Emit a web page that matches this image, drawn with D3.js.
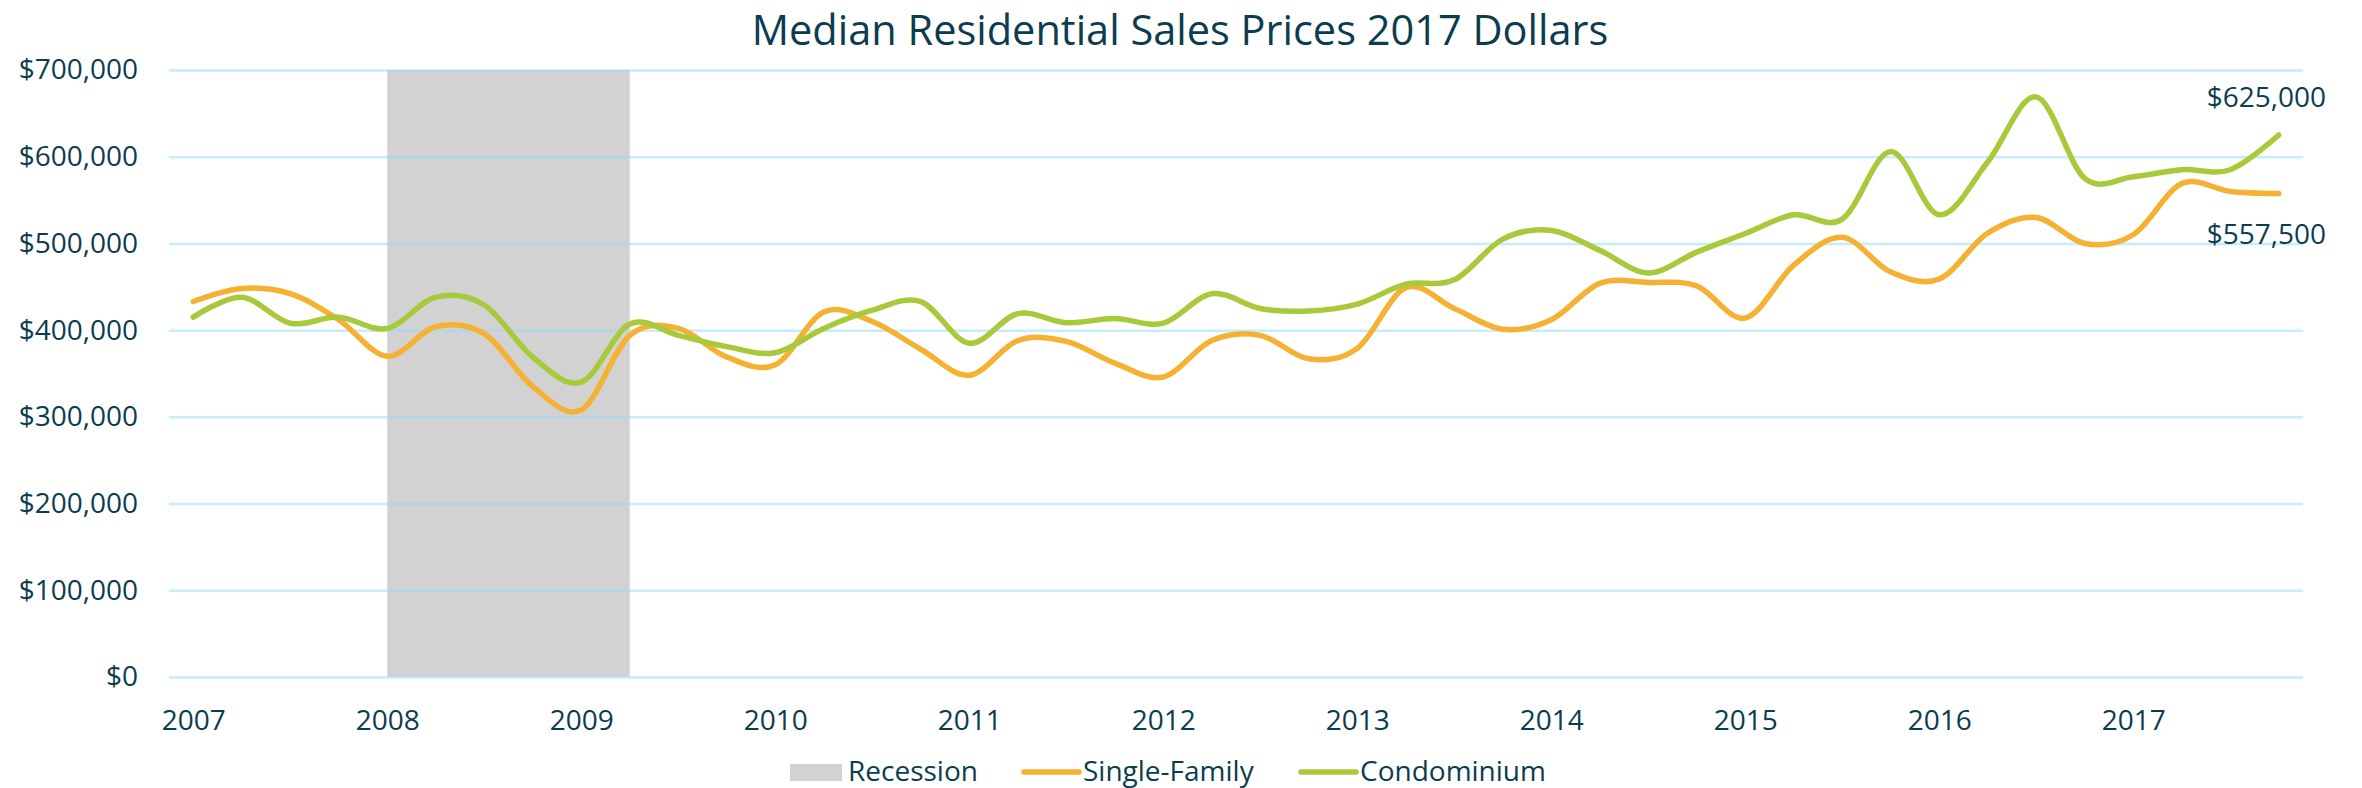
<!DOCTYPE html>
<html>
<head>
<meta charset="utf-8">
<script src="https://cdn.jsdelivr.net/npm/d3@7"></script>
<style>
  body { margin: 0; background: #fff; }
  svg { display: block; font-family: "Open Sans", sans-serif; }
</style>
</head>
<body>
<svg id="chart" width="2362" height="788"></svg>
<script>
// Quarterly median sales prices, 2007 Q1 .. 2017 Q4 (2017 dollars)
const years = d3.range(2007, 2018);
const quarters = years.flatMap(y => ['Q1', 'Q2', 'Q3', 'Q4'].map(q => y + ' ' + q));

const singleFamily = [
  433000, 448000, 442000, 412000, 370000, 404000, 396000, 335000, 308000, 394000, 402000,
  369000, 360000, 421000, 410000, 378000, 348000, 388000, 387000, 362000, 346000, 388000,
  394000, 367000, 379000, 449000, 425000, 401000, 412000, 454000, 455000, 451000, 414000,
  475000, 507000, 467000, 459000, 512000, 530000, 500000, 510000, 569000, 560000, 557500
];
const condominium = [
  415000, 438000, 408000, 415000, 402000, 438000, 429000, 369000, 340000, 407000, 394000,
  381000, 374000, 402000, 423000, 433000, 385000, 419000, 408500, 413500, 408000, 442000,
  425000, 422000, 430000, 453000, 458000, 505000, 515000, 492000, 466000, 490000, 511500,
  533000, 528000, 606000, 533000, 594000, 669000, 575000, 577000, 585000, 585000, 625000
];
const recession = ['2008 Q1', '2009 Q2'];
const yTicks = [0, 100000, 200000, 300000, 400000, 500000, 600000, 700000];

const series = [
  { name: 'Single-Family', values: singleFamily, color: '#f4b132' },
  { name: 'Condominium', values: condominium, color: '#a7c93a' }
];

const ink = '#0c3d4f';
const grid = 'rgba(140, 220, 250, 0.5)';
const svg = d3.select('#chart');
const plotL = 169, plotR = 2303, plotT = 70, plotB = 677;

const x = d3.scalePoint().domain(quarters).range([plotL, plotR]).padding(0.5);
const y = d3.scaleLinear().domain([0, 700000]).range([plotB, plotT]);

// recession band
svg.append('rect')
    .attr('x', x(recession[0]))
    .attr('width', x(recession[1]) - x(recession[0]))
    .attr('y', y(700000))
    .attr('height', y(0) - y(700000))
    .attr('fill', '#d2d2d2');

// y grid + labels
const yAxis = svg.append('g')
    .attr('transform', `translate(${plotL},0)`)
    .call(d3.axisLeft(y).tickValues(yTicks).tickFormat(d3.format('$,'))
      .tickSize(-(plotR - plotL)).tickPadding(31));
yAxis.select('.domain').remove();
yAxis.selectAll('line').attr('stroke', grid).attr('stroke-width', 2.5);
yAxis.selectAll('text').attr('fill', ink).attr('font-size', 28).attr('font-family', '"Open Sans", sans-serif');

// x labels, one per year at the first quarter
const xAxis = svg.append('g')
    .attr('transform', `translate(0,${plotB})`)
    .call(d3.axisBottom(x).tickValues(quarters.filter(q => q.endsWith('Q1')))
      .tickFormat(q => q.slice(0, 4)).tickSize(0).tickPadding(33));
xAxis.select('.domain').remove();
xAxis.selectAll('text').attr('fill', ink).attr('font-size', 28).attr('font-family', '"Open Sans", sans-serif');

// smoothed lines
const line = d3.line()
    .x((d, i) => x(quarters[i]))
    .y(d => y(d))
    .curve(d3.curveCardinal.tension(0));

svg.append('g').selectAll('path')
  .data(series)
  .join('path')
    .attr('fill', 'none')
    .attr('stroke', d => d.color)
    .attr('stroke-width', 5.5)
    .attr('stroke-linecap', 'round')
    .attr('stroke-linejoin', 'round')
    .attr('d', d => line(d.values));

// end-value labels
const last = quarters.length - 1;
const fmt = d3.format('$,');
svg.append('text')
    .attr('x', x(quarters[last]) - 72)
    .attr('y', y(condominium[last]) - 28)
    .attr('fill', ink).attr('font-size', 28)
    .text(fmt(condominium[last]));
svg.append('text')
    .attr('x', x(quarters[last]) - 72)
    .attr('y', y(singleFamily[last]) + 50)
    .attr('fill', ink).attr('font-size', 28)
    .text(fmt(singleFamily[last]));

// title
svg.append('text')
    .attr('x', 1180)
    .attr('y', 45)
    .attr('text-anchor', 'middle')
    .attr('fill', ink)
    .attr('font-size', 41.5)
    .text('Median Residential Sales Prices 2017 Dollars');

// legend
const legend = svg.append('g').attr('font-size', 28).attr('fill', ink);
legend.append('rect')
    .attr('x', 790).attr('y', 764).attr('width', 52).attr('height', 17)
    .attr('fill', '#d2d2d2');
legend.append('text').attr('x', 848).attr('y', 781).text('Recession');
[[1024, series[0]], [1301, series[1]]].forEach(([lx, s]) => {
  legend.append('line')
      .attr('x1', lx).attr('x2', lx + 55).attr('y1', 772).attr('y2', 772)
      .attr('stroke', s.color).attr('stroke-width', 5.5).attr('stroke-linecap', 'round');
  legend.append('text').attr('x', lx + 59).attr('y', 781).text(s.name);
});
</script>
</body>
</html>
